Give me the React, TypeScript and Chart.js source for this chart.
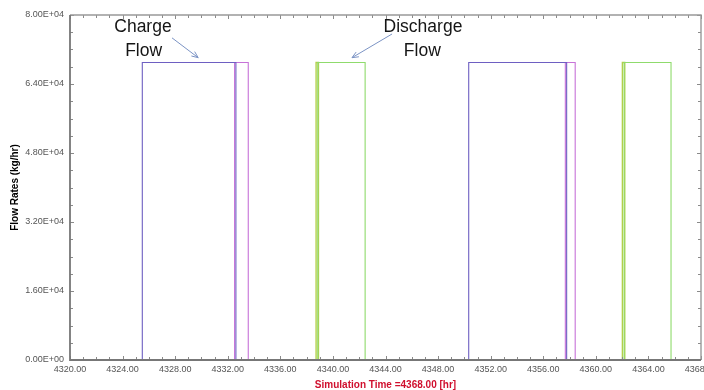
import React, { useEffect, useRef } from "react";
import { Chart, registerables } from "chart.js";

Chart.register(...registerables);

// Step transitions: each time marks the hour at which the flow switches to the paired value
const chargeTimes = [4320, 4325.5, 4332.62, 4350.33, 4357.78, 4368];
const chargeValues = [0, 69000, 0, 69000, 0, 0];
const charge2Times = [4320, 4332.52, 4333.56, 4357.68, 4358.43, 4368];
const charge2Values = [0, 69000, 0, 69000, 0, 0];
const dischargeTimes = [4320, 4338.85, 4342.45, 4362.15, 4365.72, 4368];
const dischargeValues = [0, 69000, 0, 69000, 0, 0];
const discharge2Times = [4320, 4338.72, 4338.9, 4362.02, 4362.2, 4368];
const discharge2Values = [0, 69000, 0, 69000, 0, 0];

const xMin = 4320;
const xMax = 4368;
const xMinorStep = 1;
const xMajorStep = 4;
const yMin = 0;
const yMax = 80000;
const yMinorStep = 4000;
const yMajorStep = 16000;

const xTitle = "Simulation Time =4368.00 [hr]";
const yTitle = "Flow Rates (kg/hr)";

// annotation text / arrows in data coordinates
const annotTexts = [
  { text: "Charge", x: 4325.55, y: 77200 },
  { text: "Flow", x: 4325.6, y: 71500 },
  { text: "Discharge", x: 4346.85, y: 77200 },
  { text: "Flow", x: 4346.8, y: 71500 },
];
const annotArrows = [
  { x1: 4327.76, y1: 74700, x2: 4329.75, y2: 70100 },
  { x1: 4344.5, y1: 75600, x2: 4341.45, y2: 70100 },
];

const FONT = "'Liberation Sans', Arial, sans-serif";

function fmtExp(v: number): string {
  if (v === 0) return "0.00E+00";
  const e = Math.floor(Math.log10(Math.abs(v)));
  const m = v / Math.pow(10, e);
  const es = (e < 0 ? "-" : "+") + String(Math.abs(e)).padStart(2, "0");
  return m.toFixed(2) + "E" + es;
}

function pts(ts: number[], vs: number[]) {
  return ts.map((t, i) => ({ x: t, y: vs[i] }));
}

const framePlugin = {
  id: "frameTicks",
  afterDatasetsDraw(chart: any) {
    const { ctx, chartArea } = chart;
    const { left, right, top, bottom } = chartArea;
    const xs = chart.scales.x;
    const ys = chart.scales.y;
    ctx.save();
    ctx.strokeStyle = "#8a8a8a";
    ctx.lineWidth = 1;
    xs.ticks.forEach((t: any) => {
      const px = Math.round(xs.getPixelForValue(t.value)) + 0.5;
      const len = t.value % xMajorStep === 0 ? 4 : 3;
      ctx.beginPath();
      ctx.moveTo(px, bottom);
      ctx.lineTo(px, bottom - len);
      ctx.moveTo(px, top);
      ctx.lineTo(px, top + len);
      ctx.stroke();
    });
    ys.ticks.forEach((t: any) => {
      const py = Math.round(ys.getPixelForValue(t.value)) + 0.5;
      const len = t.value % yMajorStep === 0 ? 4 : 3;
      ctx.beginPath();
      ctx.moveTo(left, py);
      ctx.lineTo(left + len, py);
      ctx.moveTo(right, py);
      ctx.lineTo(right - len, py);
      ctx.stroke();
    });
    ctx.strokeStyle = "#999";
    ctx.lineWidth = 1.4;
    ctx.beginPath();
    ctx.moveTo(left, top);
    ctx.lineTo(right, top);
    ctx.lineTo(right, bottom);
    ctx.stroke();
    ctx.strokeStyle = "#777";
    ctx.lineWidth = 1.8;
    ctx.beginPath();
    ctx.moveTo(left, top);
    ctx.lineTo(left, bottom);
    ctx.lineTo(right, bottom);
    ctx.stroke();

    // annotations
    ctx.fillStyle = "#151515";
    ctx.font = "17.5px " + FONT;
    ctx.textAlign = "center";
    ctx.textBaseline = "middle";
    annotTexts.forEach((a) => {
      ctx.fillText(a.text, xs.getPixelForValue(a.x), ys.getPixelForValue(a.y));
    });
    ctx.strokeStyle = "#7b93c4";
    ctx.lineWidth = 1;
    annotArrows.forEach((a) => {
      const x1 = xs.getPixelForValue(a.x1);
      const y1 = ys.getPixelForValue(a.y1);
      const x2 = xs.getPixelForValue(a.x2);
      const y2 = ys.getPixelForValue(a.y2);
      ctx.beginPath();
      ctx.moveTo(x1, y1);
      ctx.lineTo(x2, y2);
      ctx.stroke();
      const ang = Math.atan2(y2 - y1, x2 - x1);
      const hl = 7;
      ctx.beginPath();
      ctx.moveTo(x2 - hl * Math.cos(ang - 0.4), y2 - hl * Math.sin(ang - 0.4));
      ctx.lineTo(x2, y2);
      ctx.lineTo(x2 - hl * Math.cos(ang + 0.4), y2 - hl * Math.sin(ang + 0.4));
      ctx.stroke();
    });
    ctx.restore();
  },
};

export default function App() {
  const ref = useRef<HTMLCanvasElement | null>(null);
  useEffect(() => {
    document.body.style.margin = "0";
    const canvas = ref.current;
    if (!canvas) return;
    const ds = (label: string, data: any, color: string, w: number) => ({
      label,
      data,
      borderColor: color,
      backgroundColor: color,
      borderWidth: w,
      pointRadius: 0,
      stepped: "before" as const,
      fill: false,
    });
    const chart = new Chart(canvas, {
      type: "line",
      data: {
        datasets: [
          ds("Charge Flow", pts(chargeTimes, chargeValues), "#6e5fc2", 1.1),
          ds("Charge Flow 2", pts(charge2Times, charge2Values), "#c772d8", 1.1),
          ds("Discharge Flow", pts(dischargeTimes, dischargeValues), "#8fdb6c", 1.1),
          ds("Discharge Flow 2", pts(discharge2Times, discharge2Values), "#b2d04a", 1.4),
        ],
      },
      options: {
        animation: false,
        responsive: false,
        devicePixelRatio: 1,
        layout: { padding: { top: 15, right: 3, left: 0, bottom: 0 } },
        plugins: { legend: { display: false }, tooltip: { enabled: false } },
        scales: {
          x: {
            type: "linear",
            min: xMin,
            max: xMax,
            grid: { display: false, drawTicks: false, tickLength: 0 },
            border: { display: false },
            ticks: {
              stepSize: xMinorStep,
              autoSkip: false,
              maxRotation: 0,
              minRotation: 0,
              padding: 4,
              color: "#555",
              font: { size: 9, family: FONT },
              callback: (v: any) => (Number(v) % xMajorStep === 0 ? Number(v).toFixed(2) : ""),
            },
            title: {
              display: true,
              text: xTitle,
              color: "#d0102e",
              font: { size: 10, weight: "bold", family: FONT },
              padding: { top: 0, bottom: -1 },
            },
            afterFit: (s: any) => {
              s.height = 30;
              s.paddingLeft = 0;
              s.paddingRight = 0;
            },
          },
          y: {
            min: yMin,
            max: yMax,
            grid: { display: false, drawTicks: false, tickLength: 0 },
            border: { display: false },
            ticks: {
              stepSize: yMinorStep,
              autoSkip: false,
              padding: 6,
              color: "#555",
              font: { size: 9, family: FONT },
              callback: (v: any) => (Number(v) % yMajorStep === 0 ? fmtExp(Number(v)) : ""),
            },
            title: {
              display: true,
              text: yTitle,
              color: "#000",
              font: { size: 10, weight: "bold", family: FONT },
              padding: { top: 9, bottom: 0 },
            },
            afterFit: (s: any) => {
              s.width = 70;
              s.paddingTop = 0;
              s.paddingBottom = 0;
            },
          },
        },
      } as any,
      plugins: [framePlugin],
    });
    return () => chart.destroy();
  }, []);
  return (
    <div style={{ width: 704, height: 390, background: "#fff" }}>
      <canvas ref={ref} width={704} height={390} style={{ display: "block" }} />
    </div>
  );
}
